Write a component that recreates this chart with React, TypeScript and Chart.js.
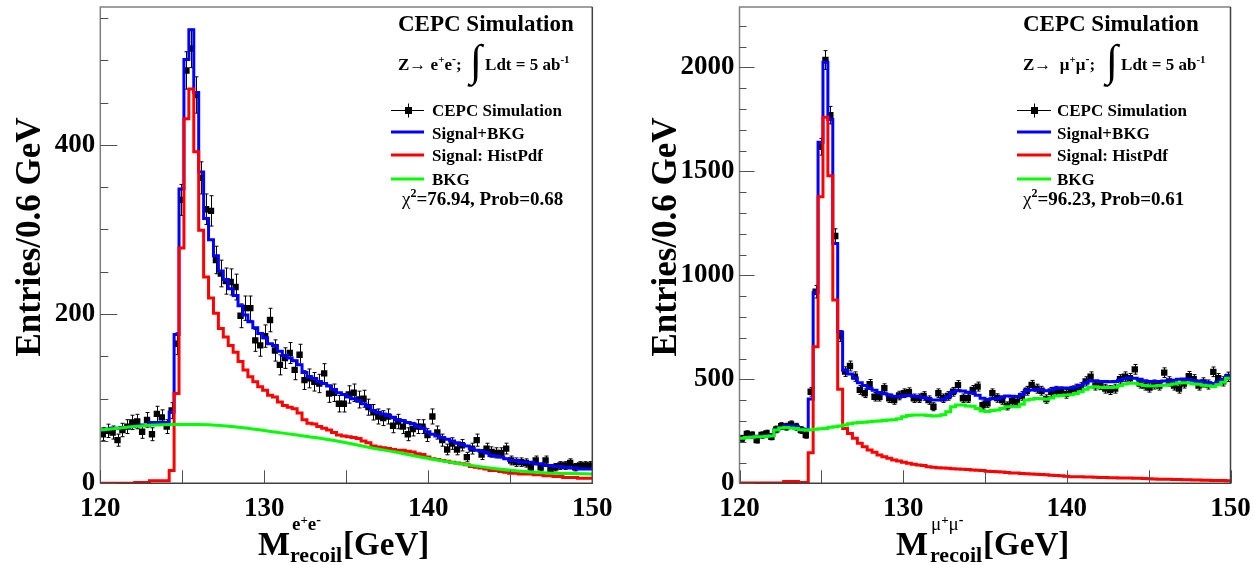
import React, { useEffect, useRef } from "react";
import { Chart, registerables } from "chart.js";

Chart.register(...registerables);

const FONT = '"Liberation Serif", "Times New Roman", serif';

// ---------- shared axis definitions ----------
const BIN_LO = 120;
const BIN_W = 0.3;
const X_MIN = 120;
const X_MAX = 150;
const xTickLabels = [120, 130, 140, 150];
const xTickMarks = [120, 125, 130, 135, 140, 145, 150];

const legendLabels = ["CEPC Simulation", "Signal+BKG", "Signal: HistPdf", "BKG"];
const titleText = "CEPC Simulation";
const yTitle = "Entries/0.6 GeV";

// ---------- left panel: Z -> e+e- ----------
const eeData = [
  58, 62, 60, 51, 63, 67, 72, 73, 61, 75,
  58, 82, 78, 67, 86, 165, 335, 488, 514, 459,
  361, 324, 322, 264, 248, 239, 238, 232, 198, 207,
  207, 169, 163, 174, 193, 157, 140, 148, 154, 134,
  152, 122, 124, 120, 118, 130, 106, 107, 94, 94,
  105, 107, 99, 100, 90, 84, 79, 77, 79, 68,
  73, 67, 58, 64, 67, 67, 57, 79, 60, 51,
  40, 47, 40, 45, 31, 41, 51, 34, 41, 37,
  36, 36, 41, 27, 25, 25, 24, 19, 27, 19,
  27, 17, 19, 21, 21, 24, 19, 21, 21, 21,
];
const eeSignal = [
  0, 0, 0, 0, 0, 0, 0, 1, 1, 1,
  3, 3, 3, 3, 15, 106, 278, 431, 466, 392,
  299, 244, 219, 201, 183, 173, 163, 155, 144, 134,
  126, 120, 114, 110, 104, 102, 96, 92, 90, 88,
  83, 75, 71, 70, 67, 65, 63, 60, 57, 56,
  55, 54, 53, 50, 48, 44, 43, 42, 41, 40,
  39, 39, 38, 37, 35, 34, 31, 29, 28, 27,
  26, 25, 24, 23, 22, 20, 19, 18, 17, 15,
  15, 14, 13, 12, 12, 11, 11, 11, 10, 10,
  9, 9, 8, 8, 7, 7, 7, 6, 6, 6,
];
const eeSigBkg = [
  63, 64, 65, 65, 66, 66, 67, 68, 69, 69,
  72, 72, 72, 72, 84, 176, 348, 501, 536, 462,
  368, 313, 288, 269, 251, 241, 230, 222, 210, 199,
  191, 184, 177, 172, 165, 163, 156, 151, 148, 145,
  140, 131, 126, 124, 120, 118, 115, 111, 107, 105,
  102, 100, 98, 94, 91, 86, 84, 82, 80, 78,
  75, 74, 72, 70, 67, 65, 61, 58, 56, 54,
  52, 50, 48, 46, 44, 41, 39, 38, 36, 33,
  32, 31, 29, 27, 27, 25, 25, 25, 23, 23,
  21, 21, 20, 20, 19, 18, 18, 17, 17, 17,
];
const eeBkgX = [120, 121.5, 123, 124.5, 126, 127.5, 129, 130.5, 132, 133.5, 135, 136.5, 138, 139.5, 141, 142.5, 144, 145.5, 147, 148.5, 150];
const eeBkgY = [63, 66, 68.5, 69.5, 69.5, 68, 65, 61, 57, 53, 48, 42, 37, 31, 26, 21.5, 17.5, 14.5, 12.5, 11.5, 11];
const eeYTickLabels = [0, 200, 400];
const eeYMax = 563;

// ---------- right panel: Z -> mu+mu- ----------
const mmData = [
  216, 237, 232, 208, 232, 240, 224, 259, 275, 272,
  283, 272, 256, 232, 440, 921, 1618, 2035, 1770, 1189,
  708, 537, 564, 513, 449, 433, 477, 416, 416, 457,
  409, 400, 422, 433, 438, 409, 409, 420, 400, 368,
  433, 409, 420, 440, 472, 409, 409, 449, 465, 376,
  385, 433, 410, 400, 372, 395, 392, 420, 445, 473,
  455, 445, 405, 440, 445, 442, 430, 445, 455, 462,
  490, 513, 470, 472, 455, 448, 455, 500, 513, 505,
  548, 480, 470, 460, 475, 470, 532, 490, 470, 455,
  480, 515, 500, 470, 485, 475, 536, 505, 490, 512,
];
const mmSignal = [
  2, 2, 2, 2, 2, 2, 2, 2, 2, 9,
  9, 9, 4, 4, 147, 657, 1378, 1760, 1479, 881,
  452, 264, 240, 216, 192, 176, 160, 149, 136, 128,
  120, 112, 107, 101, 96, 91, 88, 85, 80, 77,
  75, 74, 72, 70, 69, 67, 66, 64, 63, 61,
  58, 57, 55, 54, 52, 50, 49, 47, 46, 45,
  44, 42, 41, 39, 37, 36, 34, 32, 31, 31,
  30, 30, 29, 28, 28, 27, 27, 26, 25, 25,
  24, 24, 23, 22, 21, 20, 20, 19, 18, 18,
  17, 17, 16, 16, 15, 15, 14, 13, 13, 12,
];
const mmBkg = [
  216, 220, 222, 224, 224, 226, 228, 256, 266, 268,
  266, 264, 258, 256, 258, 260, 262, 264, 270, 272,
  275, 280, 286, 290, 292, 294, 296, 298, 300, 302,
  304, 306, 310, 320, 326, 328, 328, 328, 326, 324,
  325, 330, 344, 368, 376, 377, 372, 370, 360, 348,
  345, 350, 352, 360, 368, 368, 368, 380, 400, 404,
  408, 406, 404, 410, 420, 422, 424, 426, 432, 440,
  452, 462, 464, 462, 461, 461, 462, 470, 478, 481,
  481, 476, 470, 468, 468, 470, 472, 474, 478, 482,
  484, 482, 478, 476, 472, 469, 466, 474, 486, 505,
];
const mmSigBkg = [
  218, 222, 224, 226, 226, 228, 230, 258, 268, 277,
  275, 273, 262, 260, 405, 917, 1640, 2024, 1749, 1153,
  727, 544, 526, 506, 484, 470, 456, 447, 436, 430,
  424, 418, 417, 421, 422, 419, 416, 413, 406, 401,
  400, 404, 416, 438, 445, 444, 438, 434, 423, 409,
  403, 407, 407, 414, 420, 418, 417, 427, 446, 449,
  452, 448, 445, 449, 457, 458, 458, 458, 463, 471,
  482, 492, 493, 490, 489, 488, 489, 496, 503, 506,
  505, 500, 493, 490, 489, 490, 492, 493, 496, 500,
  501, 499, 494, 492, 487, 484, 480, 487, 499, 517,
];
const mmYTickLabels = [0, 500, 1000, 1500, 2000];
const mmYMax = 2290;

// ---------- helpers ----------
type Pt = { x: number; y: number };
const r3 = (v: number) => Math.round(v * 1000) / 1000;
const edgePoints = (vals: number[]): Pt[] => {
  const pts = vals.map((v, i) => ({ x: r3(BIN_LO + i * BIN_W), y: v }));
  pts.push({ x: r3(BIN_LO + vals.length * BIN_W), y: vals[vals.length - 1] });
  return pts;
};
const centerPoints = (vals: number[]): Pt[] =>
  vals.map((v, i) => ({ x: r3(BIN_LO + (i + 0.5) * BIN_W), y: v }));

type Seg = { t: string; size: number; dy?: number; w?: string };
function drawSegs(ctx: CanvasRenderingContext2D, x: number, y: number, segs: Seg[]) {
  let cx = x;
  for (const s of segs) {
    ctx.font = `${s.w ?? "bold"} ${s.size}px ${FONT}`;
    ctx.fillText(s.t, cx, y + (s.dy ?? 0));
    cx += ctx.measureText(s.t).width;
  }
  return cx;
}

interface PanelCfg {
  width: number;
  offset: number;
  area: { left: number; right: number; top: number; bottom: number };
  data: number[];
  sigBkg: number[];
  signal: number[];
  bkg: Pt[];
  bkgSmooth: boolean;
  yMax: number;
  yTickLabels: number[];
  yMinorStep: number;
  yMajorStep: number;
  yMajorLen: number;
  yMinorLen: number;
  particle: string;
  particleGap: string;
  chi2: string;
  prob: string;
  t: {
    titleX: number; line2X: number; integralX: number;
    legX1: number; legX2: number; legTextX: number; chiX: number;
    mX: number; supX: number; subX: number; yTitleX: number;
  };
}

const H = 565;

const leftCfg: PanelCfg = {
  width: 630,
  offset: 0,
  area: { left: 100.3, right: 592.3, top: 7, bottom: 483.3 },
  data: eeData,
  sigBkg: eeSigBkg,
  signal: eeSignal,
  bkg: eeBkgX.map((x, i) => ({ x, y: eeBkgY[i] })),
  bkgSmooth: true,
  yMax: eeYMax,
  yTickLabels: eeYTickLabels,
  yMinorStep: 50,
  yMajorStep: 200,
  yMajorLen: 17,
  yMinorLen: 8,
  particle: "e",
  particleGap: " ",
  chi2: "76.94",
  prob: "0.68",
  t: { titleX: 398, line2X: 398, integralX: 470, legX1: 391, legX2: 424, legTextX: 432, chiX: 402, mX: 258, supX: 292, subX: 290, yTitleX: 31 },
};

const rightCfg: PanelCfg = {
  width: 638,
  offset: 615,
  area: { left: 124.5, right: 615.5, top: 7, bottom: 483.3 },
  data: mmData,
  sigBkg: mmSigBkg,
  signal: mmSignal,
  bkg: edgePoints(mmBkg),
  bkgSmooth: false,
  yMax: mmYMax,
  yTickLabels: mmYTickLabels,
  yMinorStep: 100,
  yMajorStep: 500,
  yMajorLen: 15,
  yMinorLen: 7,
  particle: "μ",
  particleGap: "  ",
  chi2: "96.23",
  prob: "0.61",
  t: { titleX: 408, line2X: 408, integralX: 491, legX1: 402, legX2: 436, legTextX: 442, chiX: 408, mX: 281, supX: 316, subX: 315, yTitleX: 52 },
};

function makePlugin(cfg: PanelCfg) {
  return {
    id: "panelDecor",
    beforeDatasetsDraw(chart: any) {
      const ctx: CanvasRenderingContext2D = chart.ctx;
      const xs = chart.scales.x;
      const ys = chart.scales.y;
      const ca = chart.chartArea;
      ctx.save();
      ctx.beginPath();
      ctx.rect(ca.left, ca.top, ca.right - ca.left, ca.bottom - ca.top);
      ctx.clip();
      ctx.strokeStyle = "#000";
      ctx.lineWidth = 1;
      cfg.data.forEach((v, i) => {
        const e = Math.sqrt(v);
        const px = Math.round(xs.getPixelForValue(BIN_LO + (i + 0.5) * BIN_W)) + 0.5;
        const y1 = ys.getPixelForValue(v + e);
        const y2 = ys.getPixelForValue(v - e);
        ctx.beginPath();
        ctx.moveTo(px, y1);
        ctx.lineTo(px, y2);
        ctx.moveTo(px - 2, y1);
        ctx.lineTo(px + 2, y1);
        ctx.moveTo(px - 2, y2);
        ctx.lineTo(px + 2, y2);
        ctx.stroke();
      });
      ctx.restore();
    },
    afterDraw(chart: any) {
      const ctx: CanvasRenderingContext2D = chart.ctx;
      const xs = chart.scales.x;
      const ys = chart.scales.y;
      const ca = chart.chartArea;
      const t = cfg.t;
      ctx.save();
      // frame
      ctx.lineWidth = 1.5;
      ctx.strokeStyle = "#808080";
      ctx.beginPath();
      ctx.moveTo(ca.left, ca.bottom);
      ctx.lineTo(ca.left, ca.top);
      ctx.lineTo(ca.right, ca.top);
      ctx.stroke();
      ctx.strokeStyle = "#404040";
      ctx.beginPath();
      ctx.moveTo(ca.right, ca.top);
      ctx.lineTo(ca.right, ca.bottom);
      ctx.lineTo(ca.left, ca.bottom);
      ctx.stroke();
      // inner ticks
      ctx.lineWidth = 1;
      ctx.strokeStyle = "#505050";
      ctx.beginPath();
      for (let v = 0; v <= cfg.yMax; v += cfg.yMinorStep) {
        const py = Math.round(ys.getPixelForValue(v)) + 0.5;
        const len = v % cfg.yMajorStep === 0 ? cfg.yMajorLen : cfg.yMinorLen;
        ctx.moveTo(ca.left, py);
        ctx.lineTo(ca.left + len, py);
      }
      for (const m of xTickMarks) {
        const px = Math.round(xs.getPixelForValue(m)) + 0.5;
        ctx.moveTo(px, ca.bottom);
        ctx.lineTo(px, ca.bottom - 13);
      }
      ctx.stroke();

      // texts
      ctx.fillStyle = "#000";
      ctx.textAlign = "left";
      ctx.textBaseline = "alphabetic";
      drawSegs(ctx, t.titleX, 31, [{ t: titleText, size: 23 }]);
      const p = cfg.particle;
      drawSegs(ctx, t.line2X, 70, [
        { t: "Z", size: 17 },
        { t: "→" + cfg.particleGap, size: 17, w: "normal" },
        { t: p, size: 17 },
        { t: "+", size: 11, dy: -7 },
        { t: p, size: 17 },
        { t: "-", size: 12, dy: -7 },
        { t: ";", size: 17 },
      ]);
      const ie = drawSegs(ctx, t.integralX, 75, [{ t: "∫", size: 44, w: "normal" }]);
      drawSegs(ctx, ie + 3, 70, [
        { t: "Ldt = 5 ab", size: 17 },
        { t: "-1", size: 11, dy: -7 },
      ]);

      // legend
      const symY = [110, 132, 155, 179];
      const txtY = [116, 139, 161, 185];
      const colors = ["#000", "#0000ff", "#ff0000", "#00ff00"];
      for (let k = 0; k < 4; k++) {
        ctx.beginPath();
        if (k === 0) {
          ctx.lineWidth = 1;
          ctx.strokeStyle = "#000";
          const cy = symY[0] + 0.5;
          const cx = Math.round((t.legX1 + t.legX2) / 2) + 0.5;
          ctx.moveTo(t.legX1, cy);
          ctx.lineTo(t.legX2, cy);
          ctx.moveTo(cx, cy - 7);
          ctx.lineTo(cx, cy + 7);
          ctx.stroke();
          ctx.fillStyle = "#000";
          ctx.fillRect(cx - 3.5, cy - 3.5, 7, 7);
        } else {
          ctx.lineWidth = 3;
          ctx.strokeStyle = colors[k];
          ctx.moveTo(t.legX1, symY[k]);
          ctx.lineTo(t.legX2, symY[k]);
          ctx.stroke();
        }
        ctx.fillStyle = "#000";
        drawSegs(ctx, t.legTextX, txtY[k], [{ t: legendLabels[k], size: 17 }]);
      }
      drawSegs(ctx, t.chiX, 205, [
        { t: "χ", size: 19, w: "normal" },
        { t: "2", size: 12, dy: -8 },
        { t: `=${cfg.chi2}, Prob=${cfg.prob}`, size: 19 },
      ]);

      // x-axis title
      drawSegs(ctx, t.mX, 555, [{ t: "M", size: 34 }]);
      const supEnd = drawSegs(ctx, t.supX, 530, [
        { t: p, size: 19, w: p === "e" ? "bold" : "normal" },
        { t: "+", size: 13, dy: -6 },
        { t: p, size: 19, w: p === "e" ? "bold" : "normal" },
        { t: "-", size: 14, dy: -6 },
      ]);
      const subEnd = drawSegs(ctx, t.subX, 562, [{ t: "recoil", size: 22 }]);
      drawSegs(ctx, Math.max(supEnd, subEnd) + 1, 555, [{ t: "[GeV]", size: 33 }]);

      // y-axis title
      ctx.save();
      ctx.translate(t.yTitleX, 237);
      ctx.rotate(-Math.PI / 2);
      ctx.textAlign = "center";
      ctx.textBaseline = "middle";
      ctx.font = `bold 35px ${FONT}`;
      ctx.fillText(yTitle, 0, 0);
      ctx.restore();

      ctx.restore();
    },
  };
}

function Panel({ cfg }: { cfg: PanelCfg }) {
  const ref = useRef<HTMLCanvasElement>(null);
  useEffect(() => {
    const canvas = ref.current;
    if (!canvas) return;
    const tickFont = { family: FONT, size: 27, weight: "bold" as const };
    const chart = new Chart(canvas, {
      type: "line",
      data: {
        datasets: [
          {
            label: legendLabels[0],
            data: centerPoints(cfg.data),
            showLine: false,
            pointStyle: "rect",
            pointRadius: 4.5,
            pointBackgroundColor: "#000",
            pointBorderWidth: 0,
            order: 4,
          },
          {
            label: legendLabels[1],
            data: edgePoints(cfg.sigBkg),
            stepped: true,
            borderColor: "#0000ff",
            borderWidth: 3,
            pointRadius: 0,
            fill: false,
            order: 3,
          },
          {
            label: legendLabels[2],
            data: edgePoints(cfg.signal),
            stepped: true,
            borderColor: "#ff0000",
            borderWidth: 3,
            pointRadius: 0,
            fill: false,
            order: 2,
          },
          {
            label: legendLabels[3],
            data: cfg.bkg,
            stepped: cfg.bkgSmooth ? false : true,
            tension: cfg.bkgSmooth ? 0.4 : 0,
            cubicInterpolationMode: cfg.bkgSmooth ? "monotone" : "default",
            borderColor: "#00ff00",
            borderWidth: 3,
            pointRadius: 0,
            fill: false,
            order: 1,
          },
        ] as any,
      },
      options: {
        responsive: false,
        animation: false,
        events: [],
        layout: {
          padding: { left: 0, top: cfg.area.top, right: cfg.width - cfg.area.right, bottom: 0 },
        },
        plugins: {
          legend: { display: false },
          tooltip: { enabled: false },
        },
        scales: {
          x: {
            type: "linear",
            position: "bottom",
            min: X_MIN,
            max: X_MAX,
            afterBuildTicks: (ax: any) => {
              ax.ticks = xTickLabels.map((v) => ({ value: v }));
            },
            afterFit: (ax: any) => {
              ax.height = H - cfg.area.bottom;
              ax.paddingLeft = 0;
              ax.paddingRight = 0;
            },
            ticks: {
              font: tickFont,
              color: "#000",
              padding: 10,
              maxRotation: 0,
              autoSkip: false,
              callback: (v: any) => String(v),
            },
            grid: { display: false, drawTicks: false },
            border: { display: false },
          },
          y: {
            type: "linear",
            min: 0,
            max: cfg.yMax,
            afterBuildTicks: (ax: any) => {
              ax.ticks = cfg.yTickLabels.map((v) => ({ value: v }));
            },
            afterFit: (ax: any) => {
              ax.width = cfg.area.left;
              ax.paddingTop = 0;
              ax.paddingBottom = 0;
            },
            ticks: {
              font: tickFont,
              color: "#000",
              padding: 5,
              autoSkip: false,
              callback: (v: any) => String(v),
            },
            grid: { display: false, drawTicks: false },
            border: { display: false },
          },
        },
      } as any,
      plugins: [makePlugin(cfg)],
    });
    return () => chart.destroy();
  }, [cfg]);
  return (
    <canvas
      ref={ref}
      width={cfg.width}
      height={H}
      style={{ position: "absolute", left: cfg.offset, top: 0, width: cfg.width, height: H }}
    />
  );
}

export default function App() {
  return (
    <div
      style={{
        position: "fixed",
        left: 0,
        top: 0,
        width: 1253,
        height: H,
        background: "#fff",
        overflow: "hidden",
      }}
    >
      <Panel cfg={leftCfg} />
      <Panel cfg={rightCfg} />
    </div>
  );
}
